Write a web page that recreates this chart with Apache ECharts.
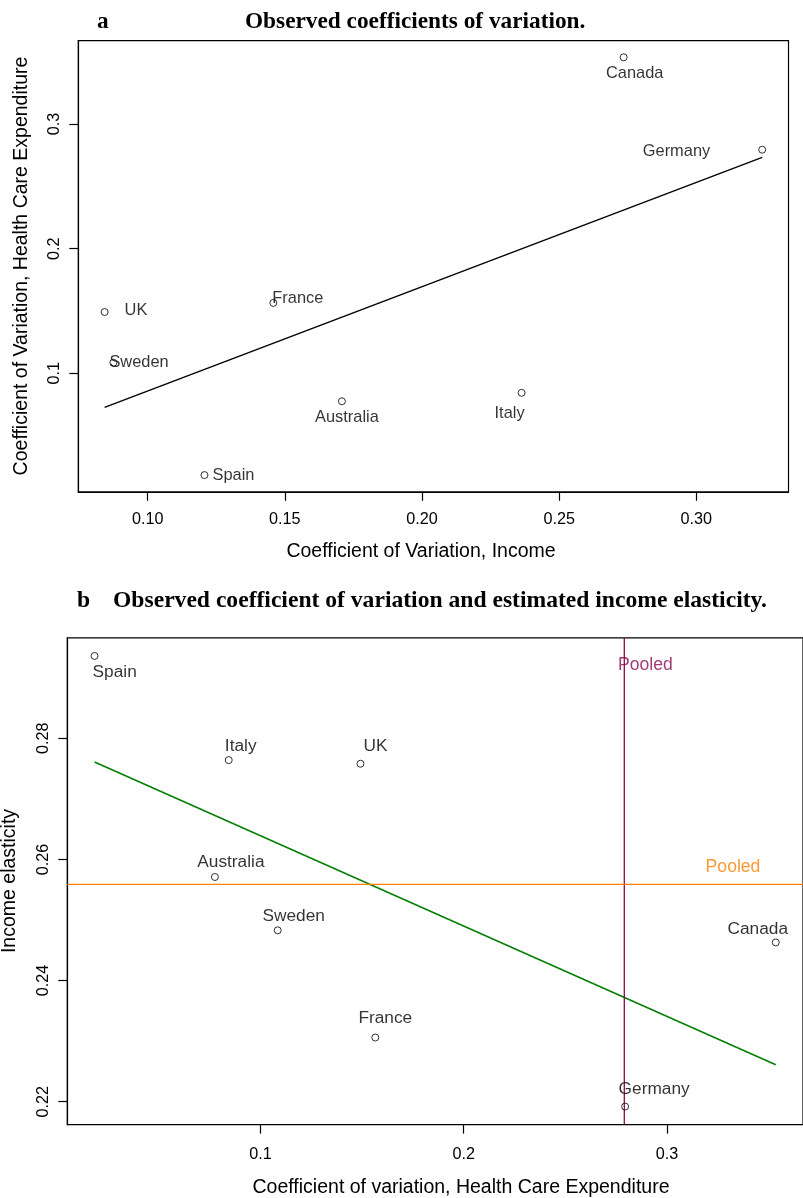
<!DOCTYPE html>
<html>
<head>
<meta charset="utf-8">
<script src="https://cdn.jsdelivr.net/npm/echarts@6/dist/echarts.min.js"></script>
<style>
html,body{margin:0;padding:0;background:#fff;}
#chart{width:803px;height:1198px;}
</style>
</head>
<body>
<div id="chart"></div>
<script>
// ---------- data ----------
const countries = ['Canada', 'Germany', 'UK', 'France', 'Sweden', 'Australia', 'Italy', 'Spain'];
const cvIncome = [0.2735, 0.3240, 0.0843, 0.1458, 0.0875, 0.1708, 0.2363, 0.1207];
const cvHealth = [0.3535, 0.2794, 0.1492, 0.1565, 0.1085, 0.0776, 0.0844, 0.0184];
const incomeElasticity = [0.2463, 0.2192, 0.2758, 0.2306, 0.2483, 0.2571, 0.2764, 0.2936];
const fitLineA = [[0.0843, 0.0727], [0.3240, 0.2733]];
const fitLineB = [[0.0184, 0.2761], [0.3535, 0.2261]];
const pooledHealthCV = 0.279;
const pooledElasticity = 0.2559;
const xTicksA = [0.10, 0.15, 0.20, 0.25, 0.30];
const xTickLabelsA = ['0.10', '0.15', '0.20', '0.25', '0.30'];
const yTicksA = [0.1, 0.2, 0.3];
const yTickLabelsA = ['0.1', '0.2', '0.3'];
const xTicksB = [0.1, 0.2, 0.3];
const xTickLabelsB = ['0.1', '0.2', '0.3'];
const yTicksB = [0.22, 0.24, 0.26, 0.28];
const yTickLabelsB = ['0.22', '0.24', '0.26', '0.28'];

// ---------- layout / style ----------
const SANS = '"Liberation Sans", Arial, Helvetica, sans-serif';
const SERIF = '"Liberation Serif", "Times New Roman", serif';
const LBL_A = 16.4, LBL_B = 17.3, TICK = 16.2;
const PURPLE = '#8B0A50', ORANGE = '#FF7F00', GREEN = '#008000';

// label placement per country (pixel offsets from point)
const labelLayoutA = {
  Canada:    {align: 'center', offset: [11, 16]},
  Germany:   {align: 'right',  offset: [-52, 2]},
  UK:        {align: 'left',   offset: [20, -2]},
  France:    {align: 'left',   offset: [-1, -4]},
  Sweden:    {align: 'left',   offset: [-4, 0]},
  Australia: {align: 'center', offset: [5, 16]},
  Italy:     {align: 'center', offset: [-12, 21]},
  Spain:     {align: 'left',   offset: [8, 0]}
};
const labelLayoutB = {
  Canada:    {align: 'center', offset: [-18, -13]},
  Germany:   {align: 'center', offset: [29, -17]},
  UK:        {align: 'center', offset: [15, -18]},
  France:    {align: 'center', offset: [10, -19]},
  Sweden:    {align: 'center', offset: [16, -14]},
  Australia: {align: 'center', offset: [16, -15]},
  Italy:     {align: 'center', offset: [12, -14]},
  Spain:     {align: 'left',   offset: [-2, 16]}
};

function rangeOf(arr) {
  const mn = Math.min.apply(null, arr), mx = Math.max.apply(null, arr);
  const e = (mx - mn) * 0.04;
  return {min: mn - e, max: mx + e};
}
const rxA = rangeOf(cvIncome), ryA = rangeOf(cvHealth);
const rxB = rangeOf(cvHealth), ryB = rangeOf(incomeElasticity);

function mkAxis(gridIndex, r, ticks, labels, isY, margin) {
  return {
    type: 'value', gridIndex: gridIndex, min: r.min, max: r.max,
    axisLine: {show: true, lineStyle: {color: '#000', width: 1.2}},
    splitLine: {show: false},
    axisTick: {show: true, inside: false, length: 9, customValues: ticks,
               lineStyle: {color: '#000', width: 1.2}},
    axisLabel: {
      show: true, customValues: ticks, margin: margin,
      rotate: isY ? 90 : 0,
      color: '#000', fontSize: TICK, fontFamily: SANS,
      formatter: function (v) {
        for (let i = 0; i < ticks.length; i++) if (Math.abs(ticks[i] - v) < 1e-9) return labels[i];
        return '';
      }
    }
  };
}

function pointData(xs, ys, layout) {
  return countries.map(function (c, i) {
    return {name: c, value: [xs[i], ys[i]],
            label: {align: layout[c].align, offset: layout[c].offset}};
  });
}

function scatterBase(fs) {
  return {
    type: 'scatter', symbol: 'circle', symbolSize: 7,
    itemStyle: {color: 'rgba(0,0,0,0)', borderColor: '#000', borderWidth: 1},
    label: {show: true, formatter: '{b}', position: 'inside', verticalAlign: 'middle',
            color: '#000', fontSize: fs, fontFamily: SANS},
    silent: true, z: 5
  };
}

const option = {
  animation: false,
  backgroundColor: '#fff',
  grid: [
    {left: 78.3, top: 40.6, width: 710.2, height: 451.2, show: true,
     borderColor: '#000', borderWidth: 1.2, backgroundColor: 'transparent'},
    {left: 67.3, top: 637.9, width: 738.4, height: 486.7, show: true,
     borderColor: '#000', borderWidth: 1.2, backgroundColor: 'transparent'}
  ],
  xAxis: [
    mkAxis(0, rxA, xTicksA, xTickLabelsA, false, 19.5),
    mkAxis(1, rxB, xTicksB, xTickLabelsB, false, 22)
  ],
  yAxis: [
    mkAxis(0, ryA, yTicksA, yTickLabelsA, true, 16),
    mkAxis(1, ryB, yTicksB, yTickLabelsB, true, 16)
  ],
  series: [
    Object.assign(scatterBase(LBL_A), {xAxisIndex: 0, yAxisIndex: 0,
      data: pointData(cvIncome, cvHealth, labelLayoutA)}),
    {type: 'line', xAxisIndex: 0, yAxisIndex: 0, data: fitLineA, symbol: 'none',
     lineStyle: {color: '#000', width: 1.4}, silent: true},
    Object.assign(scatterBase(LBL_B), {xAxisIndex: 1, yAxisIndex: 1,
      data: pointData(cvHealth, incomeElasticity, labelLayoutB)}),
    {type: 'line', xAxisIndex: 1, yAxisIndex: 1, data: fitLineB, symbol: 'none',
     lineStyle: {color: GREEN, width: 1.6}, silent: true},
    {type: 'line', xAxisIndex: 1, yAxisIndex: 1,
     data: [[pooledHealthCV, ryB.min], [pooledHealthCV, ryB.max]], symbol: 'none',
     lineStyle: {color: PURPLE, width: 1.3}, silent: true},
    {type: 'line', xAxisIndex: 1, yAxisIndex: 1,
     data: [[rxB.min, pooledElasticity], [rxB.max, pooledElasticity]], symbol: 'none',
     lineStyle: {color: ORANGE, width: 1.3}, silent: true},
    {type: 'scatter', xAxisIndex: 1, yAxisIndex: 1, symbol: 'circle', symbolSize: 1,
     itemStyle: {color: 'rgba(0,0,0,0)'}, silent: true, z: 6,
     data: [{name: 'Pooled', value: [pooledHealthCV, ryB.max],
             label: {color: PURPLE, offset: [21, 27]}},
            {name: 'Pooled', value: [rxB.max, pooledElasticity],
             label: {color: ORANGE, offset: [-70, -17]}}],
     label: {show: true, formatter: '{b}', position: 'inside', align: 'center',
             verticalAlign: 'middle', fontSize: 17.6, fontFamily: SANS}}
  ],
  graphic: [
    {type: 'text', x: 97, y: 22, style: {text: 'a', fill: '#000', font: 'bold 23.3px ' + SERIF, align: 'left', verticalAlign: 'middle'}},
    {type: 'text', x: 245, y: 22, style: {text: 'Observed coefficients of variation.', fill: '#000', font: 'bold 23.3px ' + SERIF, align: 'left', verticalAlign: 'middle'}},
    {type: 'text', x: 421, y: 552, style: {text: 'Coefficient of Variation, Income', fill: '#000', font: '19.5px ' + SANS, align: 'center', verticalAlign: 'middle'}},
    {type: 'text', x: 22, y: 266, rotation: Math.PI / 2, style: {text: 'Coefficient of Variation, Health Care Expenditure', fill: '#000', font: '19.5px ' + SANS, align: 'center', verticalAlign: 'middle'}},
    {type: 'text', x: 77, y: 601, style: {text: 'b', fill: '#000', font: 'bold 23.6px ' + SERIF, align: 'left', verticalAlign: 'middle'}},
    {type: 'text', x: 113, y: 601, style: {text: 'Observed coefficient of variation and estimated income elasticity.', fill: '#000', font: 'bold 23.6px ' + SERIF, align: 'left', verticalAlign: 'middle'}},
    {type: 'text', x: 461, y: 1188, style: {text: 'Coefficient of variation, Health Care Expenditure', fill: '#000', font: '19.5px ' + SANS, align: 'center', verticalAlign: 'middle'}},
    {type: 'text', x: 10, y: 881, rotation: Math.PI / 2, style: {text: 'Income elasticity', fill: '#000', font: '19.5px ' + SANS, align: 'center', verticalAlign: 'middle'}}
  ]
};

const chart = echarts.init(document.getElementById('chart'), null, {renderer: 'canvas'});
chart.setOption(option);
</script>
</body>
</html>
